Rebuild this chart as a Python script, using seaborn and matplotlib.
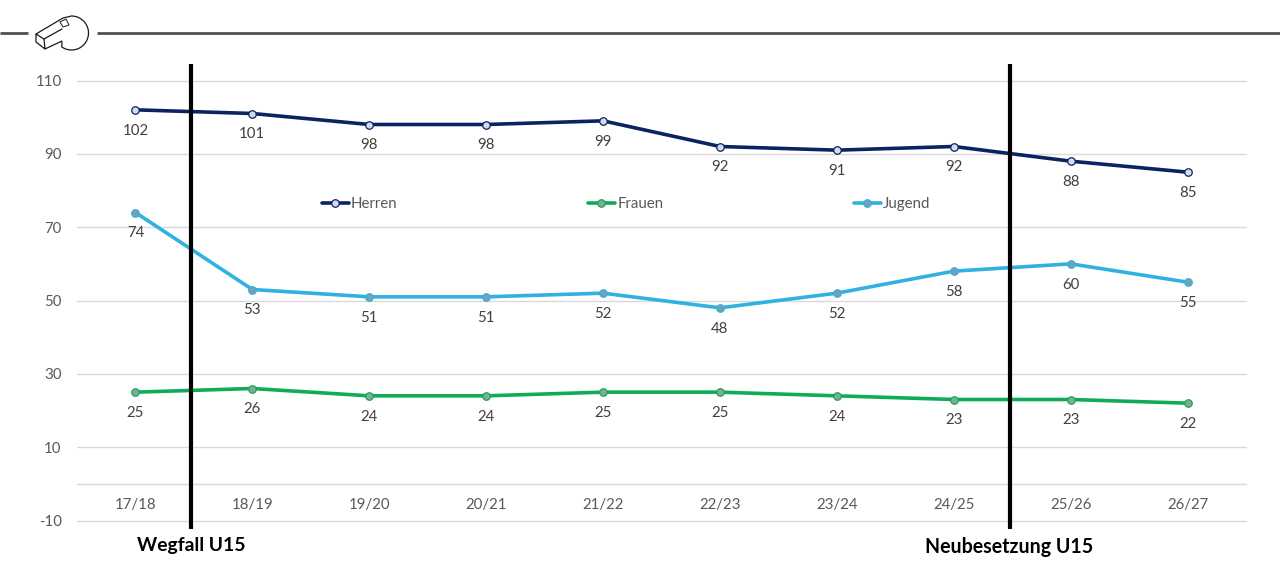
import numpy as np
import pandas as pd
import matplotlib.pyplot as plt
from matplotlib.patches import Polygon
import seaborn as sns

seasons = ['17/18', '18/19', '19/20', '20/21', '21/22', '22/23', '23/24', '24/25', '25/26', '26/27']
herren = [102, 101, 98, 98, 99, 92, 91, 92, 88, 85]
frauen = [25, 26, 24, 24, 25, 25, 24, 23, 23, 22]
jugend = [74, 53, 51, 51, 52, 48, 52, 58, 60, 55]
y_ticks = [-10, 10, 30, 50, 70, 90, 110]

W, H = 1280, 561

sns.set_theme(style='white')
plt.rcParams['font.family'] = ['Lato', 'DejaVu Sans']
plt.rcParams['axes.unicode_minus'] = False

df = pd.DataFrame({'Saison': seasons, 'Herren': herren, 'Frauen': frauen, 'Jugend': jugend})

fig = plt.figure(figsize=(W / 100, H / 100), dpi=100)
ax = fig.add_axes([77 / W, (H - 520.5) / H, (1246 - 77) / W, 440 / H])

# line colour, marker fill
styles = {
    'Herren': ('#0b2360', '#d3dcee'),
    'Frauen': ('#10ab57', '#86a89b'),
    'Jugend': ('#2fb2e0', '#7a9fb3'),
}
for name, (col, face) in styles.items():
    sns.lineplot(data=df, x='Saison', y=name, ax=ax, color=col, linewidth=2.6, label=name,
                 marker='o', markersize=5.4, markerfacecolor=face, markeredgecolor=col,
                 markeredgewidth=0.9, sort=False, errorbar=None)
    for i, v in enumerate(df[name]):
        ax.annotate(str(v), (i, v), xytext=(0, -15), textcoords='offset points',
                    ha='center', va='center', fontsize=10.8, color='#404040')

ax.set_xlim(-0.5, 9.5)
ax.set_ylim(-10, 110)
ax.set_yticks(y_ticks)
ax.set_xlabel('')
ax.set_ylabel('')
ax.grid(axis='y', color='#d9d9d9', linewidth=1, clip_on=False)
ax.set_axisbelow(True)
for s in ['top', 'left', 'right']:
    ax.spines[s].set_visible(False)
# category axis crosses at zero, labels hang below it
ax.spines['bottom'].set_position(('data', 0))
ax.spines['bottom'].set_color('#d9d9d9')
ax.spines['bottom'].set_linewidth(1)
ax.tick_params(axis='x', length=0, pad=10, labelsize=10.8, labelcolor='#595959')
ax.tick_params(axis='y', length=0, pad=11, labelsize=10.8, labelcolor='#595959')

leg = ax.legend(loc='center', bbox_to_anchor=(549 / 1169, (520.5 - 204) / 440), ncol=3, frameon=False,
                fontsize=10.8, handlelength=1.8, handletextpad=0.15, columnspacing=12.7,
                labelcolor='#595959')

# overlay in pixel coordinates for the markers outside the plot area
ov = fig.add_axes([0, 0, 1, 1], facecolor='none')
ov.set_xlim(0, W)
ov.set_ylim(H, 0)
ov.axis('off')

for px in [190.5, 1009.5]:
    ov.plot([px, px], [64, 529], color='black', linewidth=3, solid_capstyle='butt')
ov.text(191, 545, 'Wegfall U15', ha='center', va='center', fontsize=13.9, fontweight='bold', color='black')
ov.text(1009.5, 547, 'Neubesetzung U15', ha='center', va='center', fontsize=14.1, fontweight='bold', color='black')

# header rule with whistle icon
ov.plot([0, 28], [33, 33], color='#505050', linewidth=2, solid_capstyle='butt')
ov.plot([97, W], [33, 33], color='#505050', linewidth=2, solid_capstyle='butt')

t = np.radians(np.linspace(-90, 125, 60))
arc = np.column_stack([71.5 + 17 * np.cos(t), 33 + 17 * np.sin(t)])
body = np.vstack([[(36, 34), (63, 18)], arc, [(62, 41), (45, 49)]])
ov.add_patch(Polygon(body, closed=True, facecolor='white', edgecolor='#1a1a1a', linewidth=0.9))
ov.add_patch(Polygon([(36, 34), (44, 39), (45, 49), (36, 42)], closed=True, facecolor='white',
                     edgecolor='#1a1a1a', linewidth=0.9))
ov.plot([44, 62], [39, 29], color='#1a1a1a', linewidth=0.9)
ov.add_patch(Polygon([(60, 22), (66, 19), (69, 25), (63, 27)], closed=True, facecolor='white',
                     edgecolor='#1a1a1a', linewidth=0.7))

fig.savefig('out.png', dpi=100)
plt.close(fig)
